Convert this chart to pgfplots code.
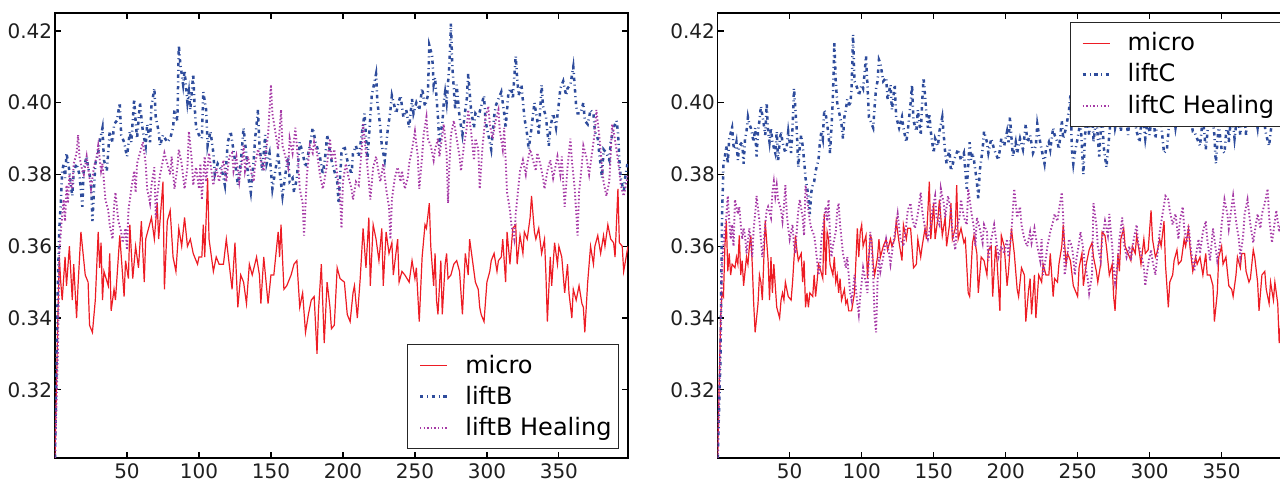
\documentclass[border=0pt]{standalone}
\usepackage{fontspec}
\setmainfont{DejaVu Sans}
\usepackage{pgfplots}
\pgfplotsset{compat=1.18}

\definecolor{cmicro}{RGB}{237,28,36}
\definecolor{clift}{RGB}{46,76,156}
\definecolor{cheal}{RGB}{166,58,166}

\pgfplotsset{
  panel/.style={
    width=286.5pt, height=222.5pt, scale only axis,
    xmin=0, xmax=398, ymin=0.301, ymax=0.425,
    xtick={50,100,150,200,250,300,350},
    ytick={0.32,0.34,0.36,0.38,0.40,0.42},
    tick align=inside, major tick length=3pt,
    axis line style={line width=0.7pt},
    every tick/.style={black, line width=0.6pt},
    /pgf/number format/assume math mode=true,
    tick label style={font=\fontsize{10}{12}\selectfont, text=black!88},
    yticklabel style={/pgf/number format/fixed, /pgf/number format/fixed zerofill,
      /pgf/number format/precision=2, inner sep=0pt, xshift=-1.2pt},
    xticklabel style={inner sep=0pt, yshift=-2.5pt},
    legend cell align=left,
    legend image code/.code={\path (0pt,0pt); \draw[#1] (3.5pt,0pt) -- (17pt,0pt);},
    legend style={font=\fontsize{12}{14}\selectfont, draw=black!85, line width=0.5pt,
      fill=white, inner xsep=2pt, inner ysep=3pt, row sep=1pt,
      nodes={inner xsep=1.5pt},
      /tikz/every odd column/.append style={column sep=7pt}},
  },
  microline/.style={color=cmicro, line width=0.6pt},
  liftline/.style={color=clift, line width=1.25pt, dash pattern=on 1.7pt off 1.8pt on 0.5pt off 1.8pt},
  healline/.style={color=cheal, line width=0.95pt, dash pattern=on 0.7pt off 1.1pt},
}

\begin{document}
\begin{tikzpicture}
\useasboundingbox (-27.5pt,-11.5pt) rectangle (612.5pt,229pt);
\clip (-27.5pt,-11.5pt) rectangle (612.5pt,229pt);

% left panel: liftB
\begin{axis}[panel,
  legend style={at={(1,0)}, anchor=south east, xshift=-4.5pt, yshift=4.5pt}]
\addplot[microline] coordinates {
(0,0.301)(2,0.340)(3,0.357)(4,0.350)(5,0.345)(7,0.357)(8,0.349)(10,0.360)(12,0.345)(13,0.355)(15,0.340)(16,0.349)(18,0.364)(21,0.352)(23,0.350)(24,0.338)(26,0.336)(28,0.345)(30,0.364)(31,0.354)(32,0.361)(33,0.345)(34,0.353)(37,0.349)(38,0.358)(39,0.342)(41,0.348)(42,0.345)(45,0.363)(48,0.346)(49,0.356)(51,0.351)(52,0.366)(54,0.351)(56,0.360)(58,0.354)(60,0.367)(62,0.350)(63,0.362)(65,0.365)(67,0.368)(69,0.362)(71,0.372)(72,0.362)(75,0.378)(76,0.348)(78,0.367)(80,0.370)(82,0.357)(84,0.353)(86,0.365)(88,0.360)(90,0.368)(92,0.360)(94,0.362)(96,0.358)(99,0.355)(100,0.357)(102,0.357)(103,0.366)(104,0.357)(106,0.379)(107,0.362)(110,0.353)(112,0.357)(114,0.355)(117,0.355)(119,0.362)(121,0.355)(123,0.348)(125,0.361)(127,0.343)(129,0.352)(131,0.350)(133,0.344)(135,0.355)(137,0.352)(140,0.357)(142,0.352)(143,0.344)(145,0.357)(148,0.344)(150,0.352)(152,0.352)(155,0.364)(156,0.357)(157,0.366)(159,0.348)(161,0.349)(164,0.352)(166,0.355)(168,0.356)(170,0.343)(172,0.347)(174,0.336)(176,0.341)(178,0.345)(180,0.346)(182,0.330)(183,0.342)(185,0.355)(187,0.333)(189,0.350)(191,0.343)(192,0.337)(194,0.338)(196,0.354)(198,0.351)(201,0.350)(203,0.341)(205,0.339)(207,0.347)(208,0.349)(210,0.340)(212,0.351)(214,0.365)(216,0.354)(218,0.368)(219,0.349)(221,0.366)(223,0.362)(225,0.356)(227,0.365)(228,0.349)(230,0.364)(232,0.358)(234,0.361)(235,0.352)(238,0.362)(239,0.350)(241,0.353)(243,0.352)(246,0.350)(248,0.356)(250,0.351)(251,0.354)(253,0.339)(255,0.357)(257,0.366)(258,0.365)(260,0.372)(261,0.360)(263,0.349)(264,0.358)(265,0.345)(266,0.341)(268,0.356)(269,0.341)(271,0.355)(272,0.358)(273,0.351)(275,0.352)(277,0.355)(279,0.356)(281,0.353)(283,0.341)(285,0.358)(287,0.352)(288,0.362)(290,0.356)(292,0.350)(294,0.348)(295,0.343)(296,0.341)(298,0.339)(300,0.350)(302,0.353)(303,0.356)(305,0.358)(307,0.353)(308,0.356)(310,0.357)(311,0.362)(313,0.350)(314,0.364)(316,0.355)(318,0.365)(320,0.366)(321,0.355)(323,0.363)(325,0.358)(326,0.364)(328,0.362)(330,0.368)(331,0.374)(333,0.364)(334,0.362)(336,0.365)(338,0.358)(340,0.362)(341,0.352)(342,0.339)(344,0.357)(345,0.349)(347,0.361)(349,0.355)(350,0.360)(352,0.357)(354,0.347)(356,0.355)(357,0.347)(359,0.340)(360,0.348)(362,0.345)(364,0.349)(366,0.344)(367,0.343)(368,0.336)(370,0.350)(372,0.360)(374,0.355)(375,0.360)(377,0.363)(379,0.358)(381,0.363)(382,0.360)(384,0.366)(386,0.362)(388,0.361)(389,0.357)(391,0.376)(392,0.361)(394,0.360)(395,0.353)(398,0.360)
};
\addlegendentry{micro}
\addplot[liftline] coordinates {
(0,0.301)(2,0.350)(3,0.365)(4,0.372)(5,0.381)(6,0.383)(7,0.379)(8,0.386)(10,0.381)(11,0.377)(12,0.374)(13,0.381)(15,0.383)(17,0.380)(19,0.371)(20,0.382)(22,0.385)(23,0.382)(25,0.378)(26,0.367)(28,0.383)(30,0.386)(31,0.389)(33,0.393)(34,0.384)(36,0.381)(38,0.392)(40,0.389)(41,0.394)(43,0.395)(45,0.400)(46,0.391)(48,0.389)(50,0.385)(52,0.392)(53,0.389)(55,0.401)(56,0.395)(57,0.390)(59,0.400)(61,0.392)(63,0.388)(64,0.394)(66,0.389)(67,0.399)(69,0.404)(70,0.396)(72,0.392)(73,0.388)(75,0.391)(78,0.389)(80,0.390)(82,0.393)(83,0.398)(85,0.395)(86,0.416)(87,0.411)(89,0.405)(90,0.409)(92,0.400)(93,0.403)(94,0.398)(96,0.408)(97,0.399)(98,0.393)(100,0.391)(102,0.390)(103,0.403)(105,0.398)(106,0.388)(108,0.392)(110,0.386)(111,0.380)(113,0.383)(116,0.381)(118,0.377)(120,0.389)(122,0.392)(125,0.384)(127,0.377)(129,0.383)(131,0.393)(133,0.385)(134,0.380)(136,0.375)(138,0.384)(139,0.390)(141,0.398)(142,0.388)(144,0.381)(146,0.391)(147,0.383)(149,0.386)(151,0.376)(153,0.381)(155,0.386)(156,0.381)(158,0.374)(160,0.380)(162,0.385)(163,0.378)(165,0.379)(166,0.375)(168,0.379)(170,0.389)(172,0.386)(174,0.382)(177,0.388)(179,0.393)(181,0.389)(184,0.385)(186,0.380)(188,0.386)(189,0.391)(192,0.384)(194,0.381)(196,0.378)(197,0.372)(199,0.386)(201,0.388)(203,0.384)(206,0.380)(207,0.386)(209,0.388)(211,0.385)(214,0.394)(215,0.397)(217,0.384)(219,0.396)(220,0.402)(222,0.406)(223,0.408)(224,0.400)(226,0.393)(227,0.388)(229,0.384)(231,0.392)(233,0.398)(234,0.402)(237,0.397)(238,0.399)(240,0.402)(242,0.396)(244,0.398)(246,0.393)(248,0.401)(249,0.397)(251,0.400)(253,0.398)(255,0.404)(257,0.399)(259,0.402)(260,0.416)(262,0.413)(263,0.405)(264,0.407)(266,0.396)(267,0.388)(268,0.392)(269,0.394)(270,0.400)(271,0.403)(272,0.400)(274,0.411)(275,0.422)(276,0.410)(278,0.398)(279,0.405)(281,0.396)(283,0.391)(285,0.398)(286,0.401)(287,0.408)(289,0.398)(291,0.393)(292,0.397)(294,0.396)(296,0.399)(298,0.402)(299,0.395)(301,0.391)(303,0.387)(305,0.396)(306,0.399)(308,0.401)(310,0.403)(312,0.397)(313,0.393)(315,0.403)(317,0.404)(318,0.401)(320,0.413)(321,0.407)(322,0.402)(324,0.405)(326,0.396)(328,0.391)(329,0.387)(331,0.393)(333,0.400)(335,0.395)(336,0.391)(338,0.405)(339,0.399)(341,0.396)(343,0.388)(344,0.393)(346,0.397)(348,0.393)(350,0.400)(351,0.404)(353,0.406)(355,0.402)(356,0.404)(358,0.405)(360,0.410)(362,0.399)(363,0.397)(365,0.397)(367,0.400)(368,0.395)(370,0.394)(372,0.398)(374,0.397)(375,0.392)(377,0.390)(378,0.386)(380,0.379)(381,0.387)(383,0.386)(385,0.384)(386,0.389)(388,0.393)(390,0.395)(391,0.392)(392,0.384)(393,0.379)(395,0.375)(396,0.379)(398,0.384)
};
\addlegendentry{liftB}
\addplot[healline] coordinates {
(0,0.301)(2,0.330)(3,0.358)(4,0.364)(6,0.373)(7,0.367)(8,0.377)(9,0.372)(10,0.380)(11,0.377)(12,0.376)(13,0.383)(15,0.386)(16,0.391)(17,0.385)(19,0.381)(20,0.380)(22,0.385)(23,0.382)(25,0.376)(27,0.382)(29,0.385)(30,0.388)(32,0.381)(33,0.383)(35,0.373)(37,0.370)(38,0.366)(40,0.362)(41,0.371)(42,0.375)(44,0.367)(46,0.364)(47,0.361)(49,0.365)(50,0.359)(51,0.370)(53,0.376)(55,0.381)(56,0.375)(57,0.383)(59,0.386)(61,0.389)(63,0.383)(64,0.376)(66,0.372)(67,0.377)(69,0.382)(70,0.368)(71,0.374)(73,0.380)(75,0.384)(76,0.386)(78,0.383)(80,0.380)(81,0.385)(83,0.376)(85,0.382)(86,0.387)(88,0.383)(90,0.376)(92,0.382)(93,0.392)(95,0.384)(96,0.377)(98,0.382)(100,0.376)(101,0.383)(102,0.373)(104,0.385)(105,0.378)(107,0.386)(108,0.383)(110,0.377)(112,0.382)(114,0.378)(117,0.384)(119,0.378)(121,0.385)(123,0.386)(124,0.381)(126,0.385)(128,0.378)(130,0.384)(131,0.388)(132,0.381)(134,0.385)(136,0.381)(138,0.378)(139,0.383)(141,0.387)(143,0.384)(145,0.381)(146,0.385)(148,0.391)(150,0.405)(151,0.397)(153,0.392)(155,0.387)(157,0.398)(158,0.388)(160,0.385)(162,0.382)(163,0.390)(165,0.386)(167,0.393)(169,0.383)(170,0.376)(172,0.372)(173,0.363)(175,0.380)(177,0.388)(179,0.386)(180,0.389)(182,0.386)(184,0.380)(186,0.376)(187,0.378)(189,0.383)(191,0.390)(192,0.384)(194,0.387)(196,0.380)(198,0.374)(199,0.365)(200,0.378)(202,0.383)(204,0.379)(206,0.376)(207,0.373)(209,0.378)(211,0.377)(213,0.387)(214,0.394)(216,0.386)(218,0.378)(219,0.373)(221,0.382)(223,0.385)(225,0.380)(226,0.378)(228,0.383)(230,0.376)(232,0.371)(233,0.362)(234,0.373)(236,0.379)(238,0.382)(240,0.378)(241,0.381)(243,0.376)(245,0.379)(246,0.383)(248,0.387)(250,0.392)(252,0.385)(253,0.376)(255,0.385)(256,0.391)(258,0.396)(259,0.390)(261,0.388)(263,0.384)(264,0.387)(266,0.390)(267,0.385)(269,0.391)(270,0.394)(272,0.386)(273,0.372)(274,0.383)(275,0.391)(277,0.395)(279,0.390)(281,0.385)(282,0.381)(284,0.388)(286,0.393)(287,0.398)(289,0.392)(291,0.384)(292,0.390)(294,0.387)(295,0.376)(297,0.388)(299,0.396)(301,0.399)(302,0.394)(304,0.390)(306,0.395)(308,0.398)(309,0.392)(311,0.387)(312,0.393)(314,0.375)(316,0.370)(317,0.366)(319,0.362)(320,0.369)(322,0.377)(323,0.381)(325,0.384)(327,0.380)(328,0.383)(330,0.387)(332,0.384)(334,0.381)(335,0.386)(337,0.383)(339,0.379)(340,0.376)(342,0.381)(344,0.384)(346,0.379)(347,0.381)(349,0.385)(351,0.380)(352,0.385)(354,0.371)(356,0.382)(358,0.390)(359,0.384)(361,0.376)(363,0.363)(364,0.375)(366,0.383)(367,0.388)(369,0.385)(371,0.380)(373,0.386)(375,0.392)(376,0.398)(378,0.391)(380,0.382)(381,0.378)(383,0.374)(385,0.378)(387,0.394)(388,0.392)(390,0.387)(392,0.381)(393,0.377)(395,0.374)(398,0.380)
};
\addlegendentry{liftB Healing}
\end{axis}

% right panel: liftC
\begin{axis}[panel, at={(331.35pt,0pt)},
  legend style={at={(1,1)}, anchor=north east, xshift=-4.5pt, yshift=-4.5pt}]
\addplot[microline] coordinates {
(0,0.301)(2,0.340)(3,0.347)(4,0.346)(5,0.360)(6,0.367)(7,0.353)(8,0.358)(9,0.352)(10,0.355)(12,0.354)(13,0.357)(14,0.355)(15,0.363)(16,0.352)(17,0.356)(18,0.349)(20,0.357)(21,0.355)(22,0.360)(23,0.363)(24,0.355)(25,0.344)(26,0.336)(28,0.344)(29,0.352)(30,0.350)(31,0.345)(32,0.356)(33,0.367)(35,0.356)(36,0.345)(37,0.357)(38,0.347)(39,0.355)(40,0.349)(41,0.343)(43,0.340)(44,0.345)(45,0.347)(46,0.345)(47,0.350)(49,0.346)(51,0.345)(52,0.350)(54,0.363)(55,0.359)(56,0.356)(58,0.358)(59,0.350)(60,0.356)(61,0.343)(62,0.347)(63,0.343)(64,0.347)(66,0.346)(67,0.352)(68,0.346)(69,0.350)(70,0.355)(71,0.354)(73,0.351)(74,0.369)(75,0.352)(76,0.364)(77,0.362)(78,0.355)(80,0.352)(81,0.357)(82,0.350)(83,0.352)(84,0.347)(85,0.351)(86,0.345)(88,0.348)(89,0.344)(90,0.345)(91,0.342)(93,0.342)(95,0.347)(97,0.365)(98,0.357)(99,0.364)(100,0.366)(101,0.360)(103,0.363)(104,0.351)(105,0.357)(106,0.363)(107,0.362)(108,0.355)(109,0.352)(111,0.357)(112,0.362)(113,0.357)(115,0.360)(117,0.362)(118,0.359)(120,0.362)(121,0.360)(123,0.362)(124,0.367)(126,0.361)(128,0.356)(129,0.366)(131,0.362)(132,0.365)(134,0.365)(136,0.354)(138,0.355)(139,0.362)(141,0.357)(142,0.360)(144,0.365)(145,0.362)(146,0.370)(147,0.378)(148,0.362)(150,0.372)(151,0.362)(153,0.368)(154,0.373)(156,0.363)(158,0.368)(159,0.360)(161,0.366)(162,0.372)(163,0.362)(165,0.365)(166,0.377)(167,0.362)(169,0.365)(171,0.361)(172,0.362)(174,0.347)(175,0.346)(177,0.361)(178,0.363)(180,0.358)(181,0.347)(183,0.357)(185,0.356)(187,0.352)(188,0.359)(190,0.360)(191,0.346)(193,0.360)(194,0.356)(196,0.342)(197,0.363)(199,0.360)(201,0.349)(202,0.353)(204,0.365)(206,0.358)(208,0.348)(209,0.346)(211,0.354)(213,0.352)(214,0.339)(216,0.348)(217,0.351)(218,0.341)(220,0.352)(221,0.340)(223,0.352)(225,0.350)(226,0.355)(228,0.352)(230,0.352)(231,0.358)(233,0.346)(234,0.351)(236,0.350)(237,0.355)(239,0.360)(240,0.366)(242,0.355)(243,0.358)(245,0.356)(247,0.349)(248,0.348)(250,0.346)(251,0.354)(253,0.358)(254,0.349)(255,0.352)(256,0.355)(258,0.359)(260,0.361)(261,0.357)(263,0.353)(264,0.350)(266,0.355)(267,0.364)(269,0.363)(270,0.360)(272,0.352)(274,0.355)(275,0.346)(276,0.342)(278,0.358)(279,0.353)(280,0.362)(282,0.365)(283,0.360)(285,0.358)(287,0.356)(288,0.360)(290,0.358)(291,0.363)(293,0.358)(294,0.355)(296,0.362)(297,0.358)(299,0.359)(301,0.370)(302,0.362)(304,0.357)(305,0.358)(307,0.362)(308,0.360)(310,0.367)(311,0.355)(313,0.343)(314,0.350)(316,0.352)(317,0.356)(319,0.359)(320,0.355)(322,0.356)(324,0.362)(325,0.360)(327,0.365)(328,0.360)(330,0.353)(332,0.357)(333,0.355)(335,0.357)(337,0.352)(339,0.358)(340,0.352)(342,0.352)(344,0.349)(345,0.339)(347,0.347)(348,0.357)(350,0.360)(351,0.355)(353,0.357)(355,0.349)(357,0.348)(358,0.346)(360,0.352)(361,0.357)(363,0.354)(364,0.358)(366,0.358)(367,0.353)(369,0.350)(370,0.351)(372,0.359)(373,0.357)(375,0.350)(376,0.342)(378,0.352)(380,0.353)(381,0.348)(383,0.344)(384,0.350)(386,0.345)(387,0.350)(389,0.344)(390,0.333)(391,0.338)(393,0.345)(395,0.343)(398,0.347)
};
\addlegendentry{micro}
\addplot[liftline] coordinates {
(0,0.301)(2,0.330)(3,0.368)(4,0.383)(5,0.385)(6,0.388)(7,0.383)(8,0.390)(10,0.393)(11,0.388)(12,0.387)(13,0.389)(14,0.384)(15,0.388)(17,0.389)(18,0.383)(19,0.390)(20,0.392)(21,0.396)(22,0.394)(23,0.393)(25,0.389)(26,0.393)(27,0.385)(28,0.392)(29,0.395)(30,0.399)(32,0.394)(33,0.391)(34,0.400)(35,0.392)(36,0.389)(37,0.393)(38,0.389)(40,0.386)(41,0.392)(42,0.384)(43,0.389)(44,0.392)(45,0.389)(47,0.386)(48,0.388)(49,0.392)(50,0.389)(51,0.386)(52,0.393)(53,0.404)(55,0.392)(56,0.382)(57,0.388)(58,0.391)(59,0.388)(60,0.384)(61,0.379)(63,0.374)(64,0.369)(65,0.375)(66,0.377)(67,0.378)(68,0.381)(70,0.384)(71,0.389)(72,0.392)(73,0.390)(74,0.398)(75,0.397)(77,0.391)(78,0.386)(79,0.393)(80,0.401)(81,0.417)(82,0.406)(83,0.400)(85,0.396)(86,0.394)(87,0.390)(88,0.396)(89,0.398)(90,0.401)(92,0.399)(93,0.404)(94,0.419)(95,0.406)(96,0.405)(97,0.404)(98,0.402)(100,0.405)(101,0.404)(102,0.408)(103,0.413)(104,0.405)(105,0.396)(107,0.394)(108,0.393)(109,0.399)(110,0.404)(111,0.406)(112,0.412)(113,0.411)(115,0.406)(117,0.407)(118,0.401)(120,0.405)(121,0.398)(123,0.405)(124,0.396)(126,0.393)(128,0.396)(129,0.393)(131,0.389)(132,0.392)(134,0.400)(135,0.405)(136,0.395)(138,0.392)(139,0.398)(141,0.391)(142,0.400)(143,0.407)(145,0.397)(146,0.393)(147,0.397)(148,0.392)(149,0.389)(150,0.386)(151,0.390)(153,0.388)(154,0.392)(156,0.396)(158,0.386)(159,0.383)(161,0.387)(162,0.381)(164,0.384)(165,0.385)(167,0.387)(169,0.384)(171,0.386)(172,0.381)(173,0.376)(175,0.389)(176,0.384)(177,0.386)(178,0.384)(180,0.378)(181,0.373)(182,0.381)(184,0.387)(185,0.392)(187,0.389)(188,0.386)(190,0.390)(192,0.387)(194,0.385)(195,0.384)(197,0.390)(199,0.388)(201,0.392)(202,0.389)(203,0.396)(205,0.385)(207,0.389)(208,0.386)(210,0.390)(212,0.387)(214,0.394)(215,0.389)(217,0.391)(219,0.386)(221,0.388)(222,0.394)(224,0.389)(225,0.387)(227,0.383)(228,0.387)(230,0.389)(231,0.387)(233,0.393)(234,0.391)(236,0.389)(237,0.387)(239,0.395)(240,0.390)(242,0.393)(244,0.398)(245,0.402)(246,0.387)(247,0.383)(248,0.386)(250,0.390)(252,0.395)(254,0.380)(256,0.398)(258,0.391)(260,0.400)(261,0.389)(263,0.396)(265,0.385)(267,0.399)(268,0.388)(270,0.382)(272,0.391)(274,0.401)(276,0.393)(278,0.397)(280,0.392)(282,0.399)(284,0.395)(285,0.391)(287,0.400)(289,0.396)(291,0.392)(293,0.389)(295,0.398)(297,0.390)(299,0.396)(300,0.391)(302,0.399)(304,0.390)(306,0.397)(308,0.394)(310,0.386)(312,0.387)(314,0.396)(316,0.400)(318,0.393)(320,0.398)(322,0.395)(324,0.401)(326,0.394)(328,0.397)(330,0.392)(331,0.392)(333,0.390)(335,0.388)(337,0.396)(339,0.387)(341,0.395)(343,0.399)(345,0.391)(346,0.383)(348,0.394)(350,0.387)(352,0.386)(354,0.396)(355,0.389)(357,0.398)(359,0.390)(361,0.397)(363,0.391)(365,0.399)(367,0.391)(369,0.400)(371,0.395)(373,0.398)(375,0.393)(377,0.401)(379,0.396)(381,0.391)(383,0.388)(385,0.395)(387,0.399)(389,0.394)(391,0.397)(393,0.392)(395,0.396)(398,0.393)
};
\addlegendentry{liftC}
\addplot[healline] coordinates {
(0,0.301)(2,0.335)(3,0.355)(4,0.360)(5,0.365)(6,0.368)(7,0.374)(8,0.367)(9,0.362)(10,0.366)(11,0.360)(12,0.373)(14,0.369)(15,0.371)(16,0.366)(17,0.362)(18,0.365)(19,0.363)(20,0.358)(22,0.365)(23,0.361)(24,0.357)(25,0.365)(26,0.369)(27,0.374)(29,0.367)(30,0.362)(31,0.357)(32,0.361)(33,0.366)(34,0.370)(35,0.371)(37,0.368)(38,0.375)(39,0.378)(40,0.374)(41,0.377)(42,0.373)(44,0.370)(45,0.367)(46,0.371)(47,0.377)(48,0.369)(49,0.365)(50,0.362)(52,0.366)(53,0.360)(54,0.358)(55,0.365)(56,0.370)(57,0.373)(59,0.368)(60,0.363)(61,0.377)(62,0.374)(63,0.370)(64,0.367)(65,0.365)(67,0.363)(68,0.360)(69,0.356)(70,0.352)(71,0.354)(72,0.362)(74,0.368)(75,0.371)(76,0.367)(77,0.373)(78,0.363)(79,0.357)(80,0.360)(82,0.364)(83,0.370)(84,0.372)(85,0.366)(86,0.362)(87,0.358)(89,0.354)(90,0.357)(91,0.352)(92,0.347)(93,0.345)(94,0.348)(95,0.352)(97,0.344)(98,0.341)(99,0.346)(100,0.350)(101,0.354)(102,0.352)(104,0.347)(105,0.357)(106,0.364)(107,0.360)(108,0.352)(109,0.340)(110,0.336)(111,0.350)(112,0.357)(113,0.353)(115,0.357)(117,0.362)(119,0.358)(120,0.355)(122,0.361)(124,0.366)(125,0.369)(127,0.362)(129,0.360)(131,0.366)(132,0.370)(134,0.372)(135,0.368)(137,0.365)(139,0.369)(141,0.375)(142,0.370)(144,0.365)(146,0.362)(148,0.366)(149,0.370)(151,0.374)(152,0.368)(154,0.366)(155,0.376)(157,0.372)(158,0.368)(160,0.374)(162,0.370)(163,0.364)(165,0.359)(166,0.365)(168,0.368)(169,0.373)(171,0.368)(173,0.366)(174,0.376)(176,0.370)(178,0.365)(179,0.360)(180,0.368)(182,0.365)(184,0.361)(185,0.366)(187,0.364)(188,0.356)(190,0.362)(192,0.366)(194,0.360)(195,0.357)(197,0.360)(199,0.358)(201,0.362)(202,0.357)(204,0.364)(206,0.376)(207,0.372)(208,0.368)(210,0.371)(211,0.366)(213,0.362)(215,0.360)(217,0.364)(218,0.361)(220,0.365)(222,0.360)(224,0.356)(225,0.362)(226,0.352)(228,0.357)(229,0.360)(231,0.364)(233,0.367)(234,0.369)(236,0.367)(237,0.370)(239,0.375)(240,0.368)(241,0.352)(243,0.358)(244,0.362)(246,0.360)(247,0.357)(248,0.352)(249,0.356)(251,0.361)(252,0.364)(254,0.359)(255,0.355)(257,0.351)(258,0.347)(260,0.352)(261,0.372)(263,0.366)(264,0.360)(266,0.356)(267,0.362)(269,0.367)(271,0.363)(272,0.369)(274,0.360)(275,0.354)(276,0.350)(278,0.356)(279,0.362)(281,0.368)(282,0.361)(284,0.357)(286,0.360)(287,0.356)(289,0.362)(291,0.366)(292,0.361)(294,0.358)(296,0.354)(297,0.349)(299,0.355)(301,0.359)(302,0.356)(304,0.352)(306,0.360)(307,0.364)(309,0.369)(311,0.374)(313,0.373)(314,0.370)(316,0.366)(318,0.369)(320,0.362)(321,0.367)(323,0.371)(324,0.365)(326,0.361)(327,0.366)(329,0.358)(331,0.353)(332,0.357)(334,0.362)(335,0.358)(337,0.364)(339,0.367)(340,0.362)(342,0.356)(344,0.365)(345,0.362)(347,0.356)(349,0.361)(350,0.366)(352,0.373)(354,0.369)(355,0.365)(357,0.371)(358,0.374)(360,0.367)(362,0.362)(363,0.357)(365,0.363)(366,0.369)(368,0.373)(370,0.366)(372,0.361)(373,0.364)(375,0.369)(377,0.365)(378,0.369)(380,0.372)(382,0.376)(383,0.368)(385,0.361)(387,0.367)(388,0.370)(390,0.364)(392,0.368)(395,0.365)(398,0.370)
};
\addlegendentry{liftC Healing}
\end{axis}
\end{tikzpicture}
\end{document}
